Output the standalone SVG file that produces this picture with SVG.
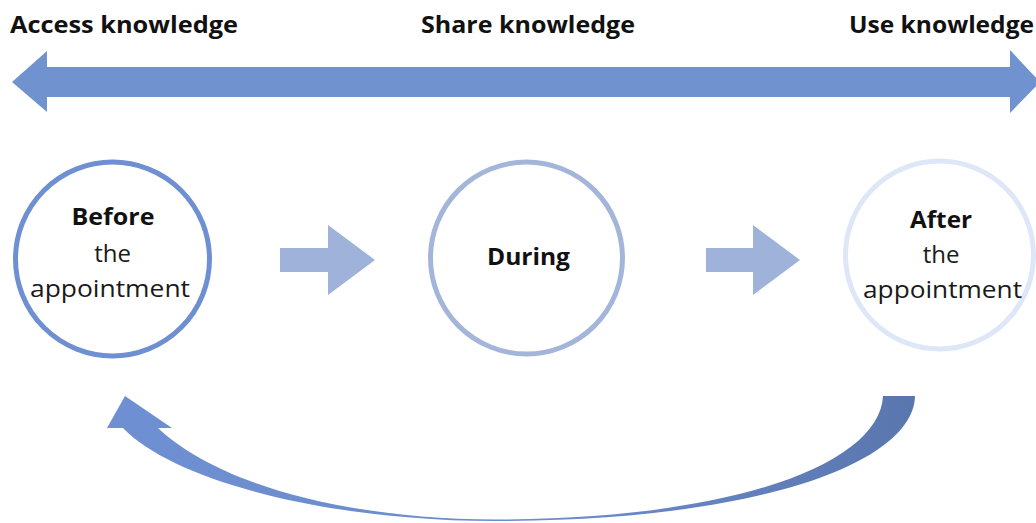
<svg xmlns="http://www.w3.org/2000/svg" width="1036" height="523" viewBox="0 0 1036 523">
  <defs>
    <style>
      .title { font-family: "Open Sans", "Noto Sans", sans-serif; font-weight: 700; font-size: 24px; fill: #111; }
      .bold { font-family: "Open Sans", "Noto Sans", sans-serif; font-weight: 700; font-size: 24px; fill: #111; text-anchor: middle; }
      .light { font-family: "Open Sans", "Noto Sans", sans-serif; font-weight: 400; font-size: 24px; fill: #1a1a1a; text-anchor: middle; }
      .ring { fill: #fff; stroke-width: 5; }
      .step { fill: #9eb2da; }
    </style>
    <linearGradient id="loopFill" x1="120" y1="0" x2="915" y2="0" gradientUnits="userSpaceOnUse">
      <stop offset="0" stop-color="#6e8fd1"/>
      <stop offset="0.55" stop-color="#6b8bcb"/>
      <stop offset="1" stop-color="#5a76ae"/>
    </linearGradient>
  </defs>
  <rect width="1036" height="523" fill="#fff"/>

  <!-- headings above the double arrow -->
  <g id="headings">
    <text class="title" x="10" y="33" textLength="228" lengthAdjust="spacingAndGlyphs">Access knowledge</text>
    <text class="title" x="421" y="33" textLength="214" lengthAdjust="spacingAndGlyphs">Share knowledge</text>
    <text class="title" x="849" y="33" textLength="185" lengthAdjust="spacingAndGlyphs">Use knowledge</text>
  </g>

  <g id="connectors">
    <!-- double-headed span arrow -->
    <polygon fill="#7093d0" points="12,82 47,51 47,67 1010,67 1010,50 1040,82 1010,113 1010,97 47,97 47,112"/>
    <!-- step arrows between stages -->
    <polygon class="step" points="280,248 328,248 328,225 375,260 328,295 328,272 280,272"/>
    <polygon class="step" points="706,248 753,248 753,225 800,260 753,295 753,272 706,272"/>
    <!-- return loop from after back to before -->
    <path fill="url(#loopFill)" d="M 883,396 L 915,396
      C 914,462 760,521 495,521
      C 330,521 175,482 123,428
      L 107,428 L 125,396 L 172,428 L 158,428
      C 215,482 340,519 495,519.5
      C 740,519 880,462 883,396 Z"/>
  </g>

  <g id="before">
    <circle class="ring" cx="112.5" cy="259" r="97" stroke="#6e8fd1"/>
    <text class="bold" x="113" y="225" textLength="83" lengthAdjust="spacingAndGlyphs">Before</text>
    <text class="light" x="112.5" y="262">the</text>
    <text class="light" x="110" y="297" textLength="160" lengthAdjust="spacingAndGlyphs">appointment</text>
  </g>

  <g id="during">
    <circle class="ring" cx="526.5" cy="258" r="96" stroke="#a4b5da"/>
    <text class="bold" x="528.5" y="265" textLength="83" lengthAdjust="spacingAndGlyphs">During</text>
  </g>

  <g id="after">
    <circle class="ring" cx="939.5" cy="255" r="94" stroke="#dee7f8"/>
    <text class="bold" x="941" y="228" textLength="62" lengthAdjust="spacingAndGlyphs">After</text>
    <text class="light" x="941" y="263">the</text>
    <text class="light" x="942.5" y="298" textLength="159" lengthAdjust="spacingAndGlyphs">appointment</text>
  </g>
</svg>
